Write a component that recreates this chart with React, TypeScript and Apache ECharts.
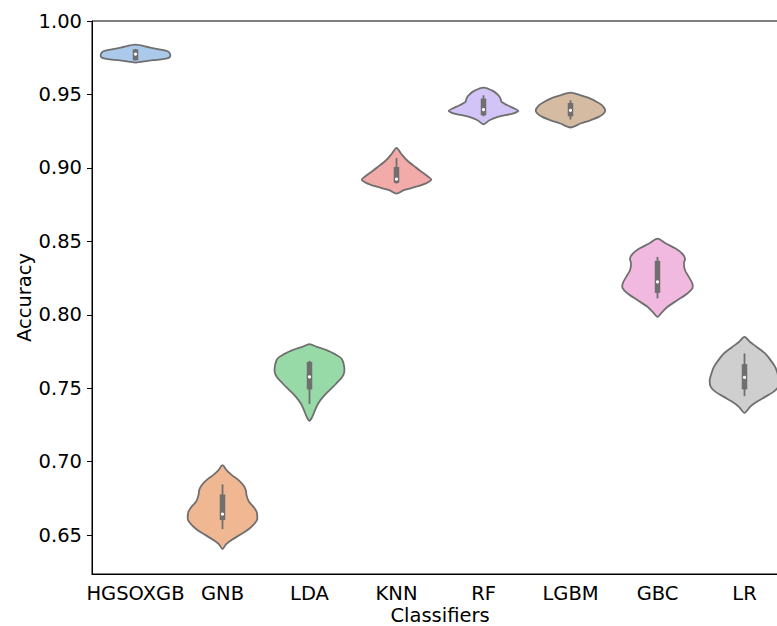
import React, { useEffect, useRef } from 'react';
import * as echarts from 'echarts';

const categories = ['HGSOXGB', 'GNB', 'LDA', 'KNN', 'RF', 'LGBM', 'GBC', 'LR'];
const yTicks = [0.65, 0.7, 0.75, 0.8, 0.85, 0.9, 0.95, 1.0];

// violin outlines: [accuracy, relative half-width (1 = widest)]
const profileHGSOXGB: [number, number][] = [
  [0.9839, 0], [0.9823, 0.35], [0.9805, 0.73], [0.9794, 0.92], [0.9778, 0.99], [0.9762, 1.0],
  [0.9751, 0.97], [0.9742, 0.83], [0.9733, 0.5], [0.9724, 0.2], [0.9717, 0],
];
const profileGNB: [number, number][] = [
  [0.6976, 0], [0.694, 0.12], [0.6908, 0.27], [0.6874, 0.46], [0.6839, 0.6], [0.6806, 0.67],
  [0.6772, 0.69], [0.6727, 0.76], [0.6693, 0.89], [0.6659, 0.98], [0.6624, 1.0], [0.6602, 0.99],
  [0.6568, 0.88], [0.6534, 0.72], [0.65, 0.49], [0.6466, 0.26], [0.6437, 0.1], [0.6405, 0],
];
const profileLDA: [number, number][] = [
  [0.78, 0], [0.7781, 0.21], [0.7759, 0.49], [0.7732, 0.73], [0.7702, 0.92], [0.7657, 0.99],
  [0.7611, 1.0], [0.7577, 0.94], [0.7532, 0.77], [0.7487, 0.58], [0.7441, 0.39], [0.7396, 0.25],
  [0.7351, 0.16], [0.7305, 0.08], [0.7278, 0],
];
const profileKNN: [number, number][] = [
  [0.9136, 0], [0.9098, 0.13], [0.9052, 0.3], [0.9006, 0.54], [0.8972, 0.73], [0.8938, 0.92],
  [0.892, 1.0], [0.8893, 0.83], [0.887, 0.54], [0.8848, 0.21], [0.8825, 0],
];
const profileRF: [number, number][] = [
  [0.9547, 0], [0.9524, 0.27], [0.9494, 0.43], [0.9472, 0.49], [0.9449, 0.52], [0.9426, 0.69],
  [0.9404, 0.89], [0.9388, 1.0], [0.937, 0.84], [0.9347, 0.41], [0.9324, 0.17], [0.9297, 0],
];
const profileLGBM: [number, number][] = [
  [0.9513, 0], [0.9494, 0.29], [0.9472, 0.57], [0.9449, 0.76], [0.9426, 0.91], [0.9392, 1.0],
  [0.937, 0.95], [0.9347, 0.81], [0.9324, 0.57], [0.9302, 0.29], [0.9275, 0],
];
const profileGBC: [number, number][] = [
  [0.8519, 0], [0.8485, 0.24], [0.8451, 0.52], [0.8417, 0.71], [0.8383, 0.79], [0.8349, 0.76],
  [0.8303, 0.79], [0.8258, 0.9], [0.8213, 1.0], [0.8179, 1.0], [0.8145, 0.86], [0.8099, 0.57],
  [0.8054, 0.29], [0.802, 0.14], [0.7986, 0],
];
const profileLR: [number, number][] = [
  [0.7849, 0], [0.7815, 0.16], [0.7781, 0.35], [0.7737, 0.59], [0.7691, 0.75], [0.7645, 0.88],
  [0.76, 0.95], [0.7555, 1.0], [0.7509, 0.97], [0.7475, 0.83], [0.7441, 0.59], [0.7407, 0.35],
  [0.7373, 0.16], [0.7332, 0],
];

// inner box: [whisker low, q1, median, q3, whisker high]
const boxHGSOXGB = [0.9731, 0.9733, 0.9775, 0.9807, 0.981];
const boxGNB = [0.6541, 0.6602, 0.6643, 0.6777, 0.6845];
const boxLDA = [0.7392, 0.7491, 0.7577, 0.7679, 0.7686];
const boxKNN = [0.8893, 0.8898, 0.8923, 0.9006, 0.9068];
const boxRF = [0.9351, 0.9358, 0.9397, 0.9472, 0.9494];
const boxLGBM = [0.9329, 0.9351, 0.9392, 0.9442, 0.946];
const boxGBC = [0.8111, 0.8149, 0.8224, 0.8367, 0.8394];
const boxLR = [0.7446, 0.7492, 0.7573, 0.7664, 0.7737];

const profiles = [profileHGSOXGB, profileGNB, profileLDA, profileKNN, profileRF, profileLGBM, profileGBC, profileLR];
const boxes = [boxHGSOXGB, boxGNB, boxLDA, boxKNN, boxRF, boxLGBM, boxGBC, boxLR];

const palette = ['#abc9ea', '#efb792', '#98daa7', '#f2aba8', '#d3c4f7', '#d6bba3', '#f1b9e0', '#cfcfcf'];
const GRAY = '#6f6f6f';
const FONT = 'DejaVu Sans';
const FS = 19.5;

export default function App() {
  const ref = useRef<HTMLDivElement>(null);
  useEffect(() => {
    const chart = echarts.init(ref.current!, null, { renderer: 'svg' });
    chart.setOption({
      animation: false,
      backgroundColor: '#fff',
      grid: {
        left: 92, top: 21, width: 696, height: 553,
        containLabel: false, outerBoundsMode: 'none',
        show: true, borderColor: '#000', borderWidth: 1, backgroundColor: 'transparent',
      },
      xAxis: {
        type: 'category',
        data: categories,
        boundaryGap: true,
        name: 'Classifiers',
        nameLocation: 'middle',
        nameGap: 31,
        nameMoveOverlap: false,
        nameTextStyle: { fontSize: FS, color: '#000', fontFamily: FONT },
        axisLine: { lineStyle: { color: '#000', width: 1 } },
        axisTick: { alignWithLabel: true, length: 5, lineStyle: { color: '#000', width: 1 } },
        axisLabel: { fontSize: FS, color: '#000', fontFamily: FONT, margin: 9, interval: 0 },
        splitLine: { show: false },
      },
      yAxis: {
        type: 'value',
        min: 0.6235,
        max: 1.0,
        name: 'Accuracy',
        nameLocation: 'middle',
        nameGap: 58,
        nameMoveOverlap: false,
        nameTextStyle: { fontSize: FS, color: '#000', fontFamily: FONT },
        axisLine: { show: true, lineStyle: { color: '#000', width: 1 } },
        axisTick: { show: true, length: 5, customValues: yTicks, lineStyle: { color: '#000', width: 1 } },
        axisLabel: {
          fontSize: FS, color: '#000', fontFamily: FONT, margin: 10,
          customValues: yTicks,
          formatter: (v: number) => v.toFixed(2),
        },
        splitLine: { show: false },
      },
      series: [
        {
          type: 'custom',
          data: categories.map((_, i) => [i, boxes[i][2]]),
          encode: { x: 0, y: 1 },
          renderItem: (params: any, api: any) => {
            const i = params.dataIndex;
            const prof = profiles[i];
            const box = boxes[i];
            const cx = api.coord([i, box[2]])[0];
            const half = api.size([1, 0])[0] * 0.4;
            const right = prof.map(([v, w]) => [cx + w * half, api.coord([i, v])[1]]);
            const left = prof
              .slice(1, -1)
              .reverse()
              .map(([v, w]) => [cx - w * half, api.coord([i, v])[1]]);
            const pts = right.concat(left);
            const yLow = api.coord([i, box[0]])[1];
            const yQ1 = api.coord([i, box[1]])[1];
            const yMed = api.coord([i, box[2]])[1];
            const yQ3 = api.coord([i, box[3]])[1];
            const yHigh = api.coord([i, box[4]])[1];
            return {
              type: 'group',
              children: [
                {
                  type: 'polygon',
                  shape: { points: pts, smooth: 0.3 },
                  style: { fill: palette[i], stroke: GRAY, lineWidth: 1.8 },
                },
                {
                  type: 'line',
                  shape: { x1: cx, y1: yHigh, x2: cx, y2: yLow },
                  style: { stroke: GRAY, lineWidth: 1.8 },
                },
                {
                  type: 'rect',
                  shape: { x: cx - 2.75, y: yQ3, width: 5.5, height: yQ1 - yQ3 },
                  style: { fill: GRAY },
                },
                {
                  type: 'circle',
                  shape: { cx: cx, cy: yMed, r: 1.6 },
                  style: { fill: '#fff' },
                },
              ],
            };
          },
        },
      ],
    });
    return () => chart.dispose();
  }, []);
  return (
    <div
      ref={ref}
      style={{ position: 'fixed', left: 0, top: 0, width: 777, height: 626, background: '#fff' }}
    />
  );
}
